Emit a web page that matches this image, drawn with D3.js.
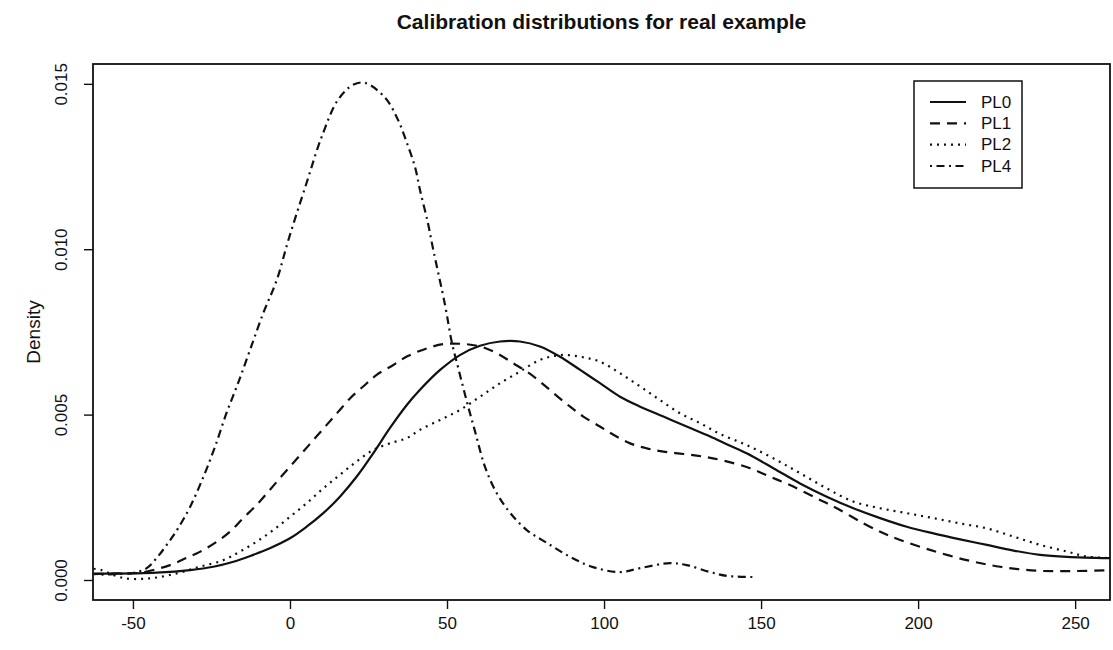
<!DOCTYPE html>
<html>
<head>
<meta charset="utf-8">
<script src="https://cdn.jsdelivr.net/npm/d3@7"></script>
<style>
  html, body { margin: 0; padding: 0; background: #fff; }
  svg { display: block; font-family: "Liberation Sans", Arial, Helvetica, sans-serif; }
</style>
</head>
<body>
<svg id="chart" width="1113" height="650"></svg>
<script>
// ---------- data ----------
const title = "Calibration distributions for real example";
const yLabel = "Density";
const xTicks = [-50, 0, 50, 100, 150, 200, 250];
const yTicks = [0.000, 0.005, 0.010, 0.015];
const yTickLabels = ["0.000", "0.005", "0.010", "0.015"];
const seriesNames = ["PL0", "PL1", "PL2", "PL4"];

const pl0X = [-62.5, -50, -42.5, -31.8, -24.4, -18, -11.7, -6.4, 0, 5.3, 10.6, 15.9, 21.2, 26.5, 31.8, 37.2, 41.4, 47.8, 54.1, 60.5, 66.9, 73.2, 79.6, 86, 92.4, 98.7, 105.1, 111.5, 118.9, 126.3, 133.8, 139.6, 145.4, 153.9, 162.4, 170.9, 179.4, 187.9, 196.4, 204.9, 213.4, 221.9, 230.4, 238.9, 247.4, 261.5];
const pl0Y = [0.00019, 0.0002, 0.00022, 0.0003, 0.0004, 0.00055, 0.00076, 0.00096, 0.00126, 0.00161, 0.00202, 0.00252, 0.00312, 0.00383, 0.00459, 0.00529, 0.00575, 0.00635, 0.0068, 0.00708, 0.00721, 0.00721, 0.00706, 0.00675, 0.00635, 0.00595, 0.00554, 0.00524, 0.00494, 0.00464, 0.00434, 0.00408, 0.00383, 0.00338, 0.00292, 0.00252, 0.00217, 0.00187, 0.00161, 0.00141, 0.00123, 0.00106, 0.00089, 0.00076, 0.0007, 0.00066];

const pl1X = [-62.5, -55, -47.8, -38.2, -32.9, -28.7, -23.3, -19.1, -14.9, -10.6, -6.9, -3.2, 0.5, 4.2, 8, 11.7, 15.4, 19.1, 23.3, 27.6, 32.9, 37.5, 43.5, 48.8, 54.7, 60.5, 65.8, 71.1, 75.4, 79.6, 83.9, 89.2, 93.4, 98.7, 103, 108.3, 113.6, 118.9, 125.3, 131.6, 138, 146.5, 152.9, 159.2, 167.7, 174.1, 182.6, 189, 194.3, 203.8, 215.5, 226.1, 237.8, 249.5, 261.5];
const pl1Y = [0.00018, 0.0002, 0.00022, 0.00045, 0.00067, 0.00085, 0.00116, 0.00146, 0.00187, 0.00227, 0.00267, 0.00308, 0.00348, 0.00388, 0.00429, 0.00469, 0.00509, 0.00549, 0.00585, 0.0062, 0.0065, 0.00677, 0.007, 0.00713, 0.00714, 0.00706, 0.00686, 0.00655, 0.0063, 0.006, 0.00565, 0.00524, 0.00494, 0.00464, 0.00439, 0.00413, 0.00398, 0.00388, 0.00381, 0.00373, 0.00361, 0.00338, 0.00312, 0.00287, 0.00247, 0.00217, 0.00171, 0.00141, 0.00121, 0.00091, 0.0006, 0.0004, 0.00028, 0.00027, 0.0003];

const pl2X = [-62.5, -60, -53.1, -44.6, -36.1, -28.7, -21.2, -15.9, -10.6, -5.3, 0, 5.3, 10.6, 15.9, 21.2, 26.5, 31.8, 37.2, 41.4, 47.8, 54.1, 60.5, 66.9, 73.2, 79.6, 86, 92.4, 98.7, 105.1, 111.5, 117.8, 124.2, 130.6, 137, 145.4, 153.9, 162.4, 170.9, 179.4, 187.9, 196.4, 204.9, 213.4, 221.9, 230.4, 238.9, 247.4, 253.7, 261.5];
const pl2Y = [0.00034, 0.0003, 0.00006, 0.00005, 0.0002, 0.0004, 0.0006, 0.00086, 0.00116, 0.00151, 0.00191, 0.00232, 0.00277, 0.00318, 0.00358, 0.00393, 0.00413, 0.00429, 0.00454, 0.00484, 0.00514, 0.00554, 0.00595, 0.0063, 0.00665, 0.0068, 0.00675, 0.0066, 0.00625, 0.00585, 0.00544, 0.00504, 0.00474, 0.00441, 0.00408, 0.00368, 0.00323, 0.00277, 0.00237, 0.00217, 0.00202, 0.00187, 0.00171, 0.00156, 0.00131, 0.00106, 0.00086, 0.00071, 0.00066];

const pl4X = [-60, -56, -50, -45.6, -42.4, -38.8, -35.6, -31.8, -27.6, -23.9, -20.2, -16.5, -12.7, -8.5, -4.2, -0.5, 5.3, 10.1, 15.3, 20.1, 23.9, 30.3, 34.4, 37.2, 39.8, 41.4, 43.9, 45.5, 49.4, 51.5, 53.6, 56.3, 58.9, 62.1, 65.8, 70.1, 75.4, 81.8, 89.2, 96.5, 105.1, 111.5, 121, 126.3, 133.8, 139.5, 148];
const pl4Y = [0.00016, 0.00018, 0.00021, 0.00036, 0.00067, 0.00112, 0.00157, 0.00221, 0.00311, 0.00402, 0.00505, 0.00596, 0.00696, 0.00807, 0.00907, 0.01028, 0.01201, 0.0134, 0.01452, 0.01497, 0.01503, 0.01458, 0.01391, 0.01322, 0.01249, 0.01179, 0.0108, 0.01004, 0.0083, 0.0072, 0.0064, 0.0054, 0.0045, 0.00342, 0.00263, 0.00203, 0.00151, 0.00112, 0.0007, 0.00039, 0.00024, 0.00036, 0.00051, 0.00045, 0.00024, 0.00012, 0.00009];

const seriesX = [pl0X, pl1X, pl2X, pl4X];
const seriesY = [pl0Y, pl1Y, pl2Y, pl4Y];
const seriesDash = [null, "10,7", "2,5", "2,4.5,8,4.5"];

// ---------- layout ----------
const ink = "#111";
const svg = d3.select("#chart");
svg.append("rect").attr("width", 1113).attr("height", 650).attr("fill", "#fff");

const pLeft = 93, pRight = 1110, pTop = 64, pBottom = 600;
const x = d3.scaleLinear().domain([-62.4, 261.1]).range([pLeft + 1, pRight]);
const y = d3.scaleLinear().domain([-0.000605, 0.0156]).range([pBottom, pTop]);

// clip
svg.append("defs").append("clipPath").attr("id", "clip")
  .append("rect").attr("x", pLeft).attr("y", pTop).attr("width", pRight - pLeft).attr("height", pBottom - pTop);

// title
svg.append("text").attr("x", (pLeft + pRight) / 2).attr("y", 29)
  .attr("text-anchor", "middle").attr("font-weight", "bold").attr("font-size", 21)
  .attr("fill", ink).text(title);

// x axis
const xAxis = svg.append("g").attr("transform", `translate(0,${pBottom})`)
  .call(d3.axisBottom(x).tickValues(xTicks).tickSize(9).tickPadding(8).tickFormat(d => String(d)));
xAxis.select(".domain").remove();
xAxis.selectAll("line").attr("stroke", ink).attr("stroke-width", 1.4);
xAxis.selectAll("text").attr("font-size", 17).attr("fill", ink)
  .attr("font-family", "Liberation Sans, Arial, sans-serif");

// y axis
const yAxis = svg.append("g").attr("transform", `translate(${pLeft},0)`)
  .call(d3.axisLeft(y).tickValues(yTicks).tickSize(9).tickFormat((d, i) => yTickLabels[i]));
yAxis.select(".domain").remove();
yAxis.selectAll("line").attr("stroke", ink).attr("stroke-width", 1.4);
yAxis.selectAll("text")
  .attr("font-size", 17).attr("fill", ink)
  .attr("font-family", "Liberation Sans, Arial, sans-serif")
  .attr("text-anchor", "middle")
  .attr("dy", null)
  .attr("x", null)
  .attr("transform", `translate(-32,0) rotate(-90)`)
  .attr("dominant-baseline", "central");

// y label
svg.append("text").attr("transform", `translate(33,${(pTop + pBottom) / 2}) rotate(-90)`)
  .attr("text-anchor", "middle").attr("dominant-baseline", "central")
  .attr("font-size", 19).attr("fill", ink).text(yLabel);

// box
svg.append("rect").attr("x", pLeft).attr("y", pTop).attr("width", pRight - pLeft).attr("height", pBottom - pTop)
  .attr("fill", "none").attr("stroke", ink).attr("stroke-width", 1.8);

// curves
const line = d3.line().x(d => x(d[0])).y(d => y(d[1])).curve(d3.curveCatmullRom.alpha(0.5));
const g = svg.append("g").attr("clip-path", "url(#clip)");
seriesNames.forEach((name, i) => {
  const pts = seriesX[i].map((v, j) => [v, seriesY[i][j]]);
  g.append("path").datum(pts)
    .attr("d", line)
    .attr("fill", "none")
    .attr("stroke", ink)
    .attr("stroke-width", 2.2)
    .attr("stroke-dasharray", seriesDash[i]);
});

// legend
const lg = svg.append("g");
lg.append("rect").attr("x", 914).attr("y", 81).attr("width", 108).attr("height", 107)
  .attr("fill", "#fff").attr("stroke", ink).attr("stroke-width", 1.5);
const legendY = d3.scalePoint().domain(seriesNames).range([102, 166]);
seriesNames.forEach((name, i) => {
  lg.append("line").attr("x1", 930).attr("x2", 966)
    .attr("y1", legendY(name)).attr("y2", legendY(name))
    .attr("stroke", ink).attr("stroke-width", 2.2)
    .attr("stroke-dasharray", seriesDash[i]);
  lg.append("text").attr("x", 981).attr("y", legendY(name))
    .attr("dominant-baseline", "central").attr("font-size", 17).attr("fill", ink).text(name);
});
</script>
</body>
</html>
